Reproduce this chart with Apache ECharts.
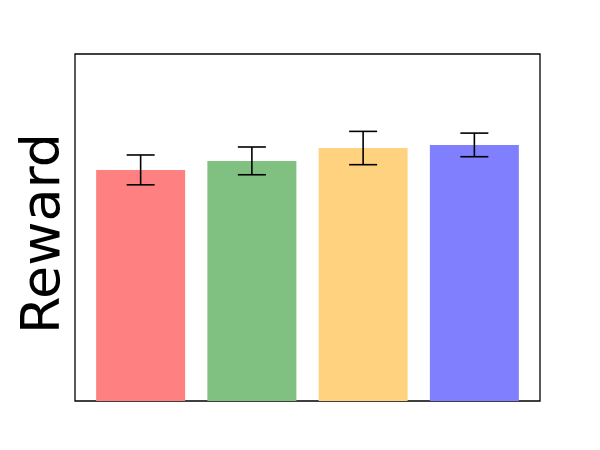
<!DOCTYPE html>
<html>
<head>
<meta charset="utf-8">
<script src="https://cdn.jsdelivr.net/npm/echarts@6/dist/echarts.min.js"></script>
<style>
  html, body { margin: 0; padding: 0; background: #fff; }
  #chart { width: 600px; height: 450px; }
</style>
</head>
<body>
<div id="chart"></div>
<script>
// positions of the four bars on the x axis (no tick labels shown)
var positions = [0, 1, 2, 3];
var rewards = [0.666, 0.692, 0.729, 0.738];
var errors = [0.043, 0.040, 0.048, 0.034];
var colors = ['#ff8080', '#80c080', '#ffd280', '#8080ff'];

var chart = echarts.init(document.getElementById('chart'));

var barData = positions.map(function (x, i) {
  return { value: [x, rewards[i]], itemStyle: { color: colors[i] } };
});
var errData = positions.map(function (x, i) {
  return [x, rewards[i] - errors[i], rewards[i] + errors[i]];
});

chart.setOption({
  animation: false,
  grid: {
    left: 75, right: 60, top: 54, bottom: 49,
    show: true, borderColor: '#000', borderWidth: 1.3, backgroundColor: '#fff'
  },
  xAxis: {
    type: 'value',
    min: -0.59,
    max: 3.59,
    axisLine: { show: false },
    axisTick: { show: false },
    axisLabel: { show: false },
    splitLine: { show: false }
  },
  yAxis: {
    type: 'value',
    min: 0,
    max: 1,
    name: 'Reward',
    nameLocation: 'middle',
    nameGap: 3,
    nameTextStyle: { fontSize: 54, color: '#000', fontFamily: 'DejaVu Sans', padding: [0, 12, 0, 0] },
    axisLine: { show: false },
    axisTick: { show: false },
    axisLabel: { show: false },
    splitLine: { show: false }
  },
  series: [{
    type: 'bar',
    barWidth: 89,
    data: barData
  }, {
    type: 'custom',
    data: errData,
    z: 10,
    renderItem: function (params, api) {
      var x = api.value(0);
      var lo = api.coord([x, api.value(1)]);
      var hi = api.coord([x, api.value(2)]);
      var half = 14;
      var style = { stroke: '#000', lineWidth: 1.6 };
      return {
        type: 'group',
        children: [
          { type: 'line', shape: { x1: lo[0], y1: lo[1], x2: hi[0], y2: hi[1] }, style: style },
          { type: 'line', shape: { x1: lo[0] - half, y1: lo[1], x2: lo[0] + half, y2: lo[1] }, style: style },
          { type: 'line', shape: { x1: hi[0] - half, y1: hi[1], x2: hi[0] + half, y2: hi[1] }, style: style }
        ]
      };
    }
  }]
});

window.addEventListener('resize', function () {
  chart.resize();
});
</script>
</body>
</html>
